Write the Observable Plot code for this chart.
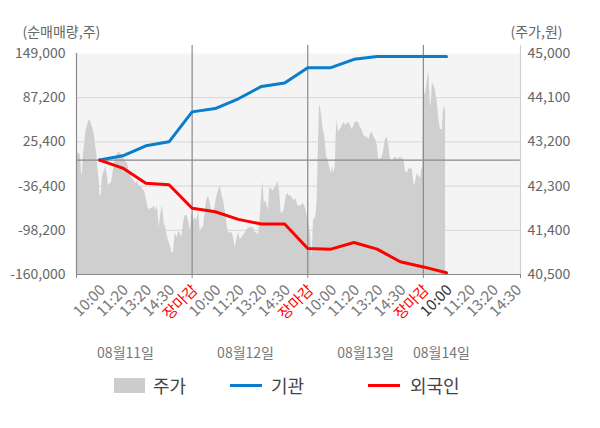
<!DOCTYPE html>
<html>
<head>
<meta charset="utf-8">
<script src="https://cdn.jsdelivr.net/npm/d3@7"></script>
<script src="https://cdn.jsdelivr.net/npm/@observablehq/plot@0.6"></script>
<style>
  html, body { margin: 0; padding: 0; background: #fff; }
  #wrap { position: relative; width: 600px; height: 428px; font-family: "Noto Sans CJK KR", "Noto Sans", sans-serif; }
  #chart { position: absolute; left: 0; top: 0; }
  .lg { position: absolute; font-size: 18px; color: #444; line-height: 24px; top: 373px; }
  .sw { position: absolute; }
</style>
</head>
<body>
<div id="wrap">
  <div id="chart"></div>
  <div class="sw" style="left:114px;top:378px;width:31px;height:15px;background:#cdcdcd"></div>
  <div class="lg" style="left:153px">주가</div>
  <div class="sw" style="left:230px;top:384px;width:32px;height:3px;background:#0a7dcc"></div>
  <div class="lg" style="left:271px">기관</div>
  <div class="sw" style="left:368px;top:384px;width:32px;height:3px;background:#ff0000"></div>
  <div class="lg" style="left:410px">외국인</div>
</div>
<script>
// ---- data ----
const leftTicks = [-160000, -98200, -36400, 25400, 87200, 149000];
const priceTickLabels = ["40,500", "41,400", "42,300", "43,200", "44,100", "45,000"];
const priceMin = 40500, priceMax = 45000;

const xLabelText = ["10:00","11:20","13:20","14:30","장마감",
                    "10:00","11:20","13:20","14:30","장마감",
                    "10:00","11:20","13:20","14:30","장마감",
                    "10:00","11:20","13:20","14:30"];
const xLabelPos = [1,2,3,4,5,6,7,8,9,10,11,12,13,14,15,16,17,18,19];
const currentLabelPos = 16;
const dayBoundaries = [5, 10, 15];
const dayNames = ["08월11일", "08월12일", "08월13일", "08월14일"];
const dayPos = [2.12, 7.31, 12.5, 15.78];

const flowPos = [1,2,3,4,5,6,7,8,9,10,11,12,13,14,15,16];
const institution = [0, 6000, 20000, 25500, 67400, 72000, 85700, 103000, 107900, 129200, 129200, 140900, 144700, 144700, 144700, 144700];
const foreigner = [0, -11200, -32300, -34500, -67400, -72200, -82900, -89500, -89500, -123600, -124600, -115200, -124600, -142100, -149400, -157600];

const priceIdx = [0,0.04,0.12,0.17,0.22,0.26,0.30,0.35,0.40,0.48,0.55,0.62,0.69,0.77,0.83,0.88,0.92,0.98,1.02,1.07,1.12,1.20,1.27,1.34,1.38,1.44,1.50,1.56,1.63,1.70,1.77,1.85,1.92,1.99,2.06,2.13,2.21,2.28,2.35,2.42,2.50,2.56,2.64,2.71,2.78,2.85,2.93,3.00,3.07,3.14,3.21,3.29,3.36,3.43,3.50,3.58,3.65,3.72,3.79,3.86,3.94,4.01,4.08,4.11,4.19,
4.27,4.34,4.41,4.48,4.55,4.63,4.70,4.77,4.84,4.92,4.99,5.06,5.13,5.20,5.28,5.35,5.42,5.49,5.57,5.63,5.71,5.78,5.85,5.92,6.00,6.07,6.14,6.21,6.28,6.36,6.43,6.50,6.57,6.65,6.72,6.79,6.86,6.93,7.01,7.08,7.15,7.22,7.30,7.36,7.44,7.51,7.58,7.65,7.73,7.80,7.87,7.94,8.01,8.06,8.12,8.19,8.25,8.30,
8.35,8.42,8.49,8.56,8.64,8.71,8.78,8.85,8.92,8.99,9.07,9.14,9.21,9.28,9.35,9.43,9.50,9.57,9.64,9.72,9.79,9.86,9.93,10.00,10.08,10.15,10.19,10.25,10.32,10.37,10.41,10.46,10.51,10.55,10.61,10.65,10.72,10.77,10.81,10.87,10.94,11.01,11.06,11.11,11.19,11.23,11.27,11.33,11.40,11.47,11.55,11.62,11.69,11.76,11.84,11.90,11.98,12.05,12.12,12.19,12.27,12.34,12.41,
12.50,12.57,12.64,12.71,12.79,12.86,12.93,13.00,13.07,13.15,13.22,13.29,13.36,13.44,13.51,13.58,13.65,13.72,13.79,13.87,13.94,14.01,14.08,14.15,14.23,14.30,14.37,14.44,14.52,14.59,14.63,14.69,14.73,14.80,14.88,14.93,14.97,15.02,15.09,15.17,15.23,15.31,15.35,15.39,15.45,15.52,15.60,15.67,15.74,15.82,15.86,15.91,15.96];

const priceVal = [41350,43000,42950,42950,42550,42550,42950,43150,43400,43550,43650,43600,43500,43350,43100,42950,42700,42400,42100,42100,42500,42600,42700,42500,42300,42350,42350,42500,42750,42850,42950,43000,42950,42900,42850,42800,42750,42600,42500,42450,42400,42350,42400,42300,42300,42250,42200,42100,41900,41800,41850,41850,41900,41800,41900,41450,41750,41900,41550,41450,41250,41150,41050,40950,40950,
41350,41250,41350,41350,41250,41550,41700,41700,41600,41400,41750,41600,41650,41600,41800,41350,41450,41450,41800,42000,42100,41950,41800,41750,41900,42100,42200,42300,42150,42000,41800,41550,41350,41350,41350,41250,41050,41200,41350,41200,41250,41300,41350,41400,41450,41450,41450,41450,41350,41350,41300,41650,42150,42400,41950,42000,41900,41800,
42250,42250,42200,42250,42300,42400,42200,41750,41750,41850,42100,42150,42100,42100,42050,42000,42050,41900,41900,41900,41950,41900,41800,41650,41450,41150,40850,41600,41650,41750,42050,43100,43950,43900,43700,43500,43350,43150,42900,42850,42700,42550,42700,42550,42700,43350,43650,43400,43450,43500,43600,43550,43550,43600,43550,43450,43500,43600,43600,43600,43500,43450,43350,
43300,43300,43250,43350,43400,43300,43250,43150,42850,42850,42900,43050,43250,43300,43100,42850,42800,42850,42900,42850,42850,42900,42850,42850,42600,42550,42650,42650,42650,42350,42300,42450,42550,42500,42450,42650,42650,44250,44150,44450,44650,43900,44050,44400,44350,44250,44000,43650,43450,43450,43800,43950,43800];

// ---- build ----
const yMin = leftTicks[0], yMax = leftTicks[leftTicks.length - 1];
const toLeft = p => yMin + (p - priceMin) / (priceMax - priceMin) * (yMax - yMin);
const priceRows = priceIdx.map((x, k) => ({x, y: toLeft(priceVal[k])}));
const instRows = flowPos.map((x, k) => ({x, y: institution[k]}));
const forRows = flowPos.map((x, k) => ({x, y: foreigner[k]}));
const labelRows = xLabelPos.map((x, k) => ({x, t: xLabelText[k]}));
const dayRows = dayNames.map((t, k) => ({x: dayPos[k], t}));
const xMax = 19.2;
const fmt = d => d.toLocaleString("en-US");
const lab = {x: "x", y: yMin, text: "t", rotate: -45, textAnchor: "end", dx: 3, dy: 13, fontSize: 15};

const chart = Plot.plot({
  width: 600,
  height: 365,
  marginTop: 53,
  marginLeft: 76,
  marginRight: 80,
  marginBottom: 91,
  x: {domain: [0, xMax], label: null},
  y: {domain: [yMin, yMax], label: null},
  style: {fontFamily: '"Noto Sans CJK KR", "Noto Sans", sans-serif', fontSize: "14px", background: "transparent", overflow: "visible"},
  marks: [
    Plot.frame({fill: "#f4f4f4", stroke: null}),
    Plot.ruleY(leftTicks.slice(1, -1), {stroke: "#dcdcdc", strokeWidth: 1.2}),
    Plot.areaY(priceRows, {x: "x", y1: yMin, y2: "y", fill: "#cfcfcf"}),
    Plot.ruleY([0], {stroke: "#8a8a8a", strokeWidth: 1.2}),
    Plot.ruleX(dayBoundaries, {stroke: "#8a8a8a", strokeWidth: 1.2, insetTop: -8}),
    Plot.ruleX([xMax], {stroke: "#cfcfcf", strokeWidth: 1.2, insetTop: -8}),
    Plot.ruleX([0], {stroke: "#8a8a8a", strokeWidth: 1.2}),
    Plot.ruleY([yMin], {stroke: "#8a8a8a", strokeWidth: 1.2}),
    Plot.line(instRows, {x: "x", y: "y", stroke: "#0a7dcc", strokeWidth: 3}),
    Plot.line(forRows, {x: "x", y: "y", stroke: "#ff0000", strokeWidth: 3}),
    Plot.axisY({ticks: leftTicks, tickFormat: fmt, tickSize: 0, tickPadding: 11, fill: "#666", label: null}),
    Plot.axisY({anchor: "right", ticks: leftTicks, tickFormat: (d, i) => priceTickLabels[i], tickSize: 0, tickPadding: 7, fill: "#666", label: null}),
    Plot.axisX({ticks: [0, ...dayBoundaries, xMax], tickFormat: () => "", tickSize: 4, stroke: "#8a8a8a", label: null}),
    Plot.text(labelRows.filter(d => d.t !== "장마감" && d.x !== currentLabelPos), {...lab, fill: "#777"}),
    Plot.text(labelRows.filter(d => d.t === "장마감"), {...lab, fill: "#ff0000"}),
    Plot.text(labelRows.filter(d => d.x === currentLabelPos), {...lab, fill: "#333"}),
    Plot.text(dayRows, {x: "x", y: yMin, text: "t", dy: 79, fill: "#777"}),
    Plot.text(["(순매매량,주)"], {frameAnchor: "top-left", lineAnchor: "middle", textAnchor: "start", dx: -54, dy: -21, fill: "#666"}),
    Plot.text(["(주가,원)"], {frameAnchor: "top-right", lineAnchor: "middle", textAnchor: "end", dx: 42, dy: -21, fill: "#666"})
  ]
});
document.getElementById("chart").appendChild(chart);
</script>
</body>
</html>
